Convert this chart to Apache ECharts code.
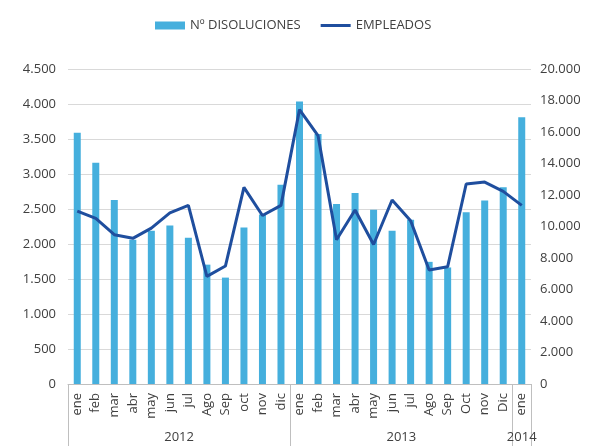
<!DOCTYPE html>
<html><head><meta charset="utf-8">
<script src="https://cdn.jsdelivr.net/npm/echarts@6/dist/echarts.min.js"></script>
<style>html,body{margin:0;padding:0;background:#fff}#c{width:602px;height:446px}</style>
</head><body><div id="c"></div>
<script>
const months = ['ene','feb','mar','abr','may','jun','jul','Ago','Sep','oct','nov','dic',
                'ene','feb','mar','abr','may','jun','jul','Ago','Sep','Oct','nov','Dic','ene'];
const years = ['2012','2013','2014'];
const yearSpans = [12,12,1];
const disoluciones = [3590,3160,2630,2060,2190,2265,2090,1705,1520,2235,2420,2845,
                      4035,3570,2570,2730,2490,2190,2345,1745,1665,2455,2620,2810,3810];
const empleados = [10980,10510,9480,9250,9900,10860,11340,6830,7490,12480,10700,11340,
                   17420,15770,9160,11050,8860,11680,10370,7240,7450,12700,12820,12230,11340];
const leftTicks = {min:0, max:4500, interval:500};
const rightTicks = {min:0, max:20000, interval:2000};

const fmt = v => String(v).replace(/\B(?=(\d{3})+(?!\d))/g, '.');
const yearBounds = [0]; yearSpans.forEach(s => yearBounds.push(yearBounds[yearBounds.length-1] + s));
const yearCenters = yearSpans.map((s,i) => yearBounds[i] + s/2);
const txt = '#404040', font = 'Open Sans', fs = 13;

const chart = echarts.init(document.getElementById('c'));
chart.setOption({
  animation:false,
  textStyle:{fontFamily:font},
  legend:{top:14, left:150, itemGap:20, itemWidth:30, itemHeight:8,
    textStyle:{fontSize:fs, color:txt, fontFamily:font},
    data:[{name:'Nº DISOLUCIONES', icon:'rect'},
          {name:'EMPLEADOS', icon:'path://M0 0h30v3h-30z'}]},
  grid:{left:68, right:71, top:69, bottom:62},
  xAxis:[
    {type:'category', data:months, boundaryGap:true,
     axisLine:{show:true, lineStyle:{color:'#bfbfbf'}},
     axisTick:{show:false},
     axisLabel:{rotate:90, interval:0, margin:9, fontSize:fs, color:txt, fontFamily:font}},
    {type:'value', min:0, max:months.length, position:'bottom',
     axisLine:{show:false}, splitLine:{show:false},
     axisTick:{show:true, customValues:yearBounds, length:62, lineStyle:{color:'#bfbfbf'}},
     axisLabel:{customValues:yearCenters, margin:47, fontSize:fs, color:txt, fontFamily:font,
       formatter:v => { const i = yearCenters.indexOf(v); return i >= 0 ? years[i] : ''; }}}
  ],
  yAxis:[
    {type:'value', min:leftTicks.min, max:leftTicks.max, interval:leftTicks.interval,
     axisLine:{show:false}, axisTick:{show:false},
     splitLine:{lineStyle:{color:'#d9d9d9'}},
     axisLabel:{formatter:fmt, fontSize:fs, color:txt, margin:12, fontFamily:font}},
    {type:'value', min:rightTicks.min, max:rightTicks.max, interval:rightTicks.interval,
     axisLine:{show:false}, axisTick:{show:false}, splitLine:{show:false},
     axisLabel:{formatter:fmt, fontSize:fs, color:txt, margin:9, fontFamily:font}}
  ],
  series:[
    {name:'Nº DISOLUCIONES', type:'bar', data:disoluciones, xAxisIndex:0, yAxisIndex:0,
     barWidth:7, itemStyle:{color:'#45afdd'}},
    {name:'EMPLEADOS', type:'line', data:empleados, xAxisIndex:0, yAxisIndex:1,
     symbol:'none', lineStyle:{color:'#1f4e9e', width:3}, itemStyle:{color:'#1f4e9e'}}
  ]
});
</script></body></html>
